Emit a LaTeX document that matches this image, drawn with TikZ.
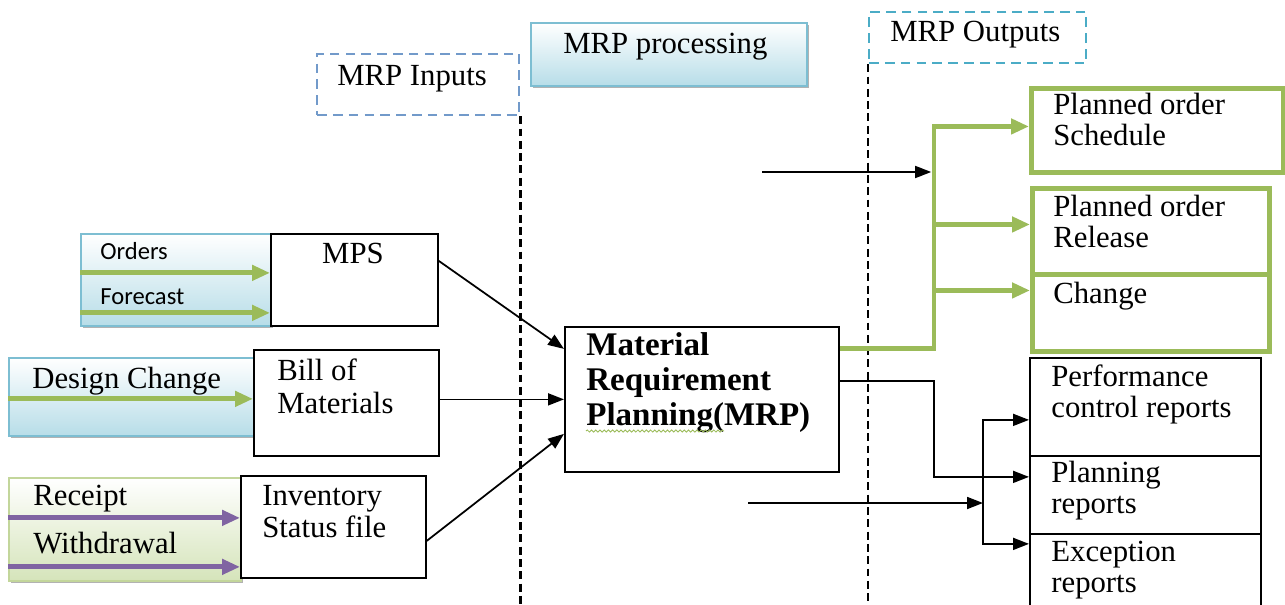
\documentclass[tikz,border=0pt]{standalone}
\usepackage{fontspec}
\setmainfont{Liberation Serif}
\newfontfamily\calfont{Carlito}
\usetikzlibrary{arrows.meta,shadows,decorations.pathmorphing}

\definecolor{barblue}{RGB}{183,221,232}
\definecolor{barblueline}{RGB}{125,190,210}
\definecolor{bargreen}{RGB}{213,228,186}
\definecolor{bargreenline}{RGB}{195,214,155}
\definecolor{flowgreen}{RGB}{155,187,89}
\definecolor{flowpurple}{RGB}{128,100,162}
\definecolor{inblue}{RGB}{79,129,189}
\definecolor{outteal}{RGB}{75,172,198}

\tikzset{
  size/.style 2 args={minimum width=#1*0.02cm, minimum height=#2*0.02cm},
  box/.style={draw, line width=1pt, fill=white, inner sep=0pt, anchor=north west},
  gbox/.style={box, draw=flowgreen, line width=2.8pt},
  bluebar/.style={box, draw=barblueline, line width=1pt, top color=white, bottom color=barblue,
    drop shadow={shadow xshift=1.3pt, shadow yshift=-1.3pt, fill=black, opacity=0.3}},
  greenbar/.style={bluebar, draw=bargreenline, bottom color=bargreen},
  inbox/.style={box, fill=none, draw=inblue!80, line width=1.3pt, dash pattern=on 5.5pt off 3.5pt},
  outbox/.style={inbox, draw=outteal},
  txt/.style={anchor=base west, inner sep=0pt, align=left, font=\fontsize{17.5}{17.2}\selectfont},
  bold/.style={txt, font=\fontsize{18.8}{19.3}\selectfont\bfseries},
  small/.style={txt, font=\calfont\fontsize{14}{14}\selectfont},
  conn/.style={line width=1pt, -{Triangle[length=0.32cm, width=0.24cm]}},
  gline/.style={draw=flowgreen, line width=2.8pt, -{Triangle[length=0.36cm, width=0.3cm]}},
  pline/.style={gline, draw=flowpurple},
  divider/.style={line width=1.6pt, dash pattern=on 4.5pt off 2.5pt},
}

\begin{document}
\begin{tikzpicture}[x=0.02cm, y=-0.02cm]
  \useasboundingbox (0,0) rectangle (1285,605);

  % headers
  \node[inbox, size={202}{61}] (inputs) at (316,53) {};
  \node[bluebar, size={276}{63}] (proc) at (530,22) {};
  \node[outbox, size={217}{51}] (outputs) at (868,11) {};
  \node[txt] (tinputs) at (337,85) {MRP Inputs};
  \node[txt] (tproc) at (563,53) {MRP processing};
  \node[txt] (toutputs) at (890,41) {MRP Outputs};

  % inputs
  \node[bluebar, size={190}{92}] (ordbar) at (80,233) {};
  \node[box, size={167}{92}] (mps) at (270,233) {};
  \node[bluebar, size={247}{78}] (dsgbar) at (8,357) {};
  \node[box, size={185}{106}] (bill) at (253,349) {};
  \node[greenbar, size={232}{103}] (rcpbar) at (8,477) {};
  \node[box, size={185}{102}] (inv) at (240,475) {};
  \node[small] (tord) at (100,259) {Orders};
  \node[small] (tfc) at (100,304) {Forecast};
  \node[txt, anchor=base] (tmps) at (353,263) {MPS};
  \node[txt] (tdsg) at (32,388) {Design Change};
  \node[txt] (tbill) at (277,413) {Bill of\\[1.5pt]Materials};
  \node[txt] (trcp) at (33,505) {Receipt};
  \node[txt] (twd) at (33,553) {Withdrawal};
  \node[txt] (tinv) at (262,537) {Inventory\\[1pt]Status file};

  % processing
  \node[box, size={274}{145}] (mrp) at (564,326) {};
  \node[bold] (tmrp) at (586,425) {Material\\[0.4pt]Requirement\\[0.4pt]Planning(MRP)};
  \draw[flowgreen, line width=0.5pt, decorate,
    decoration={snake, amplitude=0.6pt, segment length=2.4pt}] (586,431) -- (724,431);

  % outputs
  \node[gbox, size={252}{84}] (sch) at (1029,86) {};
  \node[gbox, size={237}{86}] (rel) at (1030,186) {};
  \node[gbox, size={237}{77}] (chg) at (1030,272) {};
  \node[box, size={231}{98}] (perf) at (1029,357) {};
  \node[box, size={231}{78}] (plan) at (1029,455) {};
  \node[box, size={231}{92}] (exc) at (1029,533) {};
  \node[txt] (tsch) at (1053,145) {Planned order\\Schedule};
  \node[txt] (trel) at (1053,247) {Planned order\\Release};
  \node[txt] (tchg) at (1053,303) {Change};
  \node[txt] (tperf) at (1051,417) {Performance\\control reports};
  \node[txt] (tplan) at (1051,513) {Planning\\reports};
  \node[txt] (texc) at (1051,592) {Exception\\reports};

  % dividers
  \coordinate (bot) at (0,605);
  \draw[divider] (inputs.south east) -- (inputs.south east |- bot);
  \draw[divider] (outputs.south west) -- (outputs.south west |- bot);

  % input flows
  \draw[gline] ([yshift=0.14cm]ordbar.west) -- ([yshift=0.14cm]ordbar.west -| mps.west);
  \draw[gline] ([yshift=-0.66cm]ordbar.west) -- ([yshift=-0.66cm]ordbar.west -| mps.west);
  \draw[gline] ([yshift=-0.04cm]dsgbar.west) -- ([yshift=-0.04cm]dsgbar.west -| bill.west);
  \draw[pline] ([yshift=0.23cm]rcpbar.west) -- ([yshift=0.23cm]rcpbar.west -| inv.west);
  \draw[pline] ([yshift=-0.75cm]rcpbar.west) -- ([yshift=-0.75cm]rcpbar.west -| inv.west);
  \draw[conn] ([yshift=0.38cm]mps.east) -- ([yshift=1.01cm]mrp.west);
  \draw[conn] (bill.east |- mrp.west) -- (mrp.west);
  \draw[conn] ([yshift=-0.28cm]inv.east) -- ([yshift=-0.69cm]mrp.west);

  % output flows
  \coordinate (gbus) at (934,0);
  \coordinate (rbus) at (983,0);
  \coordinate (schin) at (762,172);
  \coordinate (repin) at (748,503);
  \draw[gline] ([yshift=1.01cm]mrp.east) -| ([yshift=0.08cm]sch.west -| gbus) -- ([yshift=0.08cm]sch.west);
  \draw[gline] ([yshift=0.14cm]rel.west -| gbus) -- ([yshift=0.14cm]rel.west);
  \draw[gline] ([yshift=0.45cm]chg.west -| gbus) -- ([yshift=0.45cm]chg.west);
  \draw[conn, shorten >=1.6pt] (schin) -- (schin -| gbus);
  \draw[conn] ([yshift=0.37cm]mrp.east) -| ([yshift=0.36cm]plan.west -| gbus) -- ([yshift=0.36cm]plan.west);
  \draw[conn] (repin) -- (repin -| rbus);
  \draw[conn] (repin -| rbus) |- ([yshift=-0.26cm]perf.west);
  \draw[conn] (repin -| rbus) |- ([yshift=0.72cm]exc.west);
\end{tikzpicture}
\end{document}
